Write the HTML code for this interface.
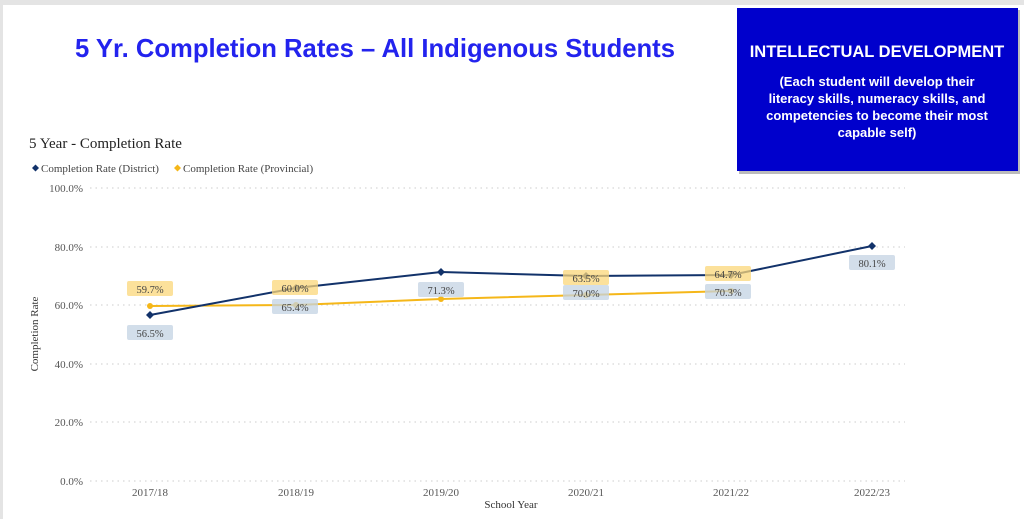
<!DOCTYPE html>
<html><head><style>
body{margin:0;width:1024px;height:519px;overflow:hidden;background:#fff;font-family:"Liberation Serif",serif;}
</style></head><body>
<svg width="1024" height="519" xmlns="http://www.w3.org/2000/svg" style="position:absolute;left:0;top:0">
<rect x="0" y="0" width="1024" height="5" fill="#e4e4e4"/>
<rect x="0" y="0" width="3" height="519" fill="#e4e4e4"/>
<text x="375" y="57" text-anchor="middle" font-family="Liberation Sans, sans-serif" font-weight="bold" font-size="26" fill="#2323ee" textLength="600" lengthAdjust="spacingAndGlyphs">5 Yr. Completion Rates – All Indigenous Students</text>
<rect x="739" y="10" width="281" height="164" fill="#555" opacity="0.4"/>
<rect x="737" y="8" width="281" height="163" fill="#0000cc"/>
<g font-family="Liberation Sans, sans-serif" font-weight="bold" fill="#fff" text-anchor="middle">
<text x="877" y="57" font-size="16.5">INTELLECTUAL DEVELOPMENT</text>
<text x="877" y="86" font-size="13">(Each student will develop their</text>
<text x="877" y="103" font-size="13">literacy skills, numeracy skills, and</text>
<text x="877" y="120" font-size="13">competencies to become their most</text>
<text x="877" y="137" font-size="13">capable self)</text>
</g>
<text x="29" y="148" font-size="15" fill="#222">5 Year - Completion Rate</text>
<g font-size="11" fill="#444">
<path d="M32 168 l3.5 -3.5 l3.5 3.5 l-3.5 3.5z" fill="#12326a"/>
<text x="41" y="172">Completion Rate (District)</text>
<path d="M174 168 l3.5 -3.5 l3.5 3.5 l-3.5 3.5z" fill="#f5b719"/>
<text x="183" y="172">Completion Rate (Provincial)</text>
</g>
<g stroke="#ccc" stroke-dasharray="1.5 4" stroke-width="1">
<line x1="90" y1="188" x2="905" y2="188"/>
<line x1="90" y1="247" x2="905" y2="247"/>
<line x1="90" y1="305" x2="905" y2="305"/>
<line x1="90" y1="364" x2="905" y2="364"/>
<line x1="90" y1="422" x2="905" y2="422"/>
<line x1="90" y1="481" x2="905" y2="481"/>
</g>
<g font-size="11" fill="#555" text-anchor="end">
<text x="83" y="192">100.0%</text>
<text x="83" y="251">80.0%</text>
<text x="83" y="309">60.0%</text>
<text x="83" y="368">40.0%</text>
<text x="83" y="426">20.0%</text>
<text x="83" y="485">0.0%</text>
</g>
<text transform="translate(38,334) rotate(-90)" text-anchor="middle" font-size="11" fill="#333">Completion Rate</text>
<g font-size="11" fill="#555" text-anchor="middle">
<text x="150" y="496">2017/18</text><text x="296" y="496">2018/19</text><text x="441" y="496">2019/20</text>
<text x="586" y="496">2020/21</text><text x="731" y="496">2021/22</text><text x="872" y="496">2022/23</text>
</g>
<text x="511" y="508" text-anchor="middle" font-size="11" fill="#333">School Year</text>
<polyline points="150,306 296,305 441,299 586,295 731,291" fill="none" stroke="#f5b719" stroke-width="2"/>
<g fill="#f5b719"><circle cx="150" cy="306" r="3"/><circle cx="296" cy="305" r="3"/><circle cx="441" cy="299" r="3"/><circle cx="586" cy="295" r="3"/><circle cx="731" cy="291" r="3"/></g>
<polyline points="150,315 296,288 441,272 586,276 731,275 872,246" fill="none" stroke="#12326a" stroke-width="2"/>
<g fill="#12326a"><path d="M150 311l4 4-4 4-4-4z"/><path d="M296 284l4 4-4 4-4-4z"/><path d="M441 268l4 4-4 4-4-4z"/><path d="M586 272l4 4-4 4-4-4z"/><path d="M731 271l4 4-4 4-4-4z"/><path d="M872 242l4 4-4 4-4-4z"/></g>
<g opacity="0.75">
<rect x="127" y="281" width="46" height="15" rx="2" fill="#fcd77a"/>
<rect x="272" y="280" width="46" height="15" rx="2" fill="#fcd77a"/>
<rect x="563" y="270" width="46" height="15" rx="2" fill="#fcd77a"/>
<rect x="705" y="266" width="46" height="15" rx="2" fill="#fcd77a"/>
<rect x="127" y="325" width="46" height="15" rx="2" fill="#c4d3e3"/>
<rect x="272" y="299" width="46" height="15" rx="2" fill="#c4d3e3"/>
<rect x="418" y="282" width="46" height="15" rx="2" fill="#c4d3e3"/>
<rect x="563" y="285" width="46" height="15" rx="2" fill="#c4d3e3"/>
<rect x="705" y="284" width="46" height="15" rx="2" fill="#c4d3e3"/>
<rect x="849" y="255" width="46" height="15" rx="2" fill="#c4d3e3"/>
</g>
<g font-size="10.5" fill="#444" text-anchor="middle">
<text x="150" y="293">59.7%</text><text x="295" y="292">60.0%</text><text x="586" y="282">63.5%</text><text x="728" y="278">64.7%</text>
<text x="150" y="337">56.5%</text><text x="295" y="311">65.4%</text><text x="441" y="294">71.3%</text><text x="586" y="297">70.0%</text><text x="728" y="296">70.3%</text><text x="872" y="267">80.1%</text>
</g>
</svg>
</body></html>
